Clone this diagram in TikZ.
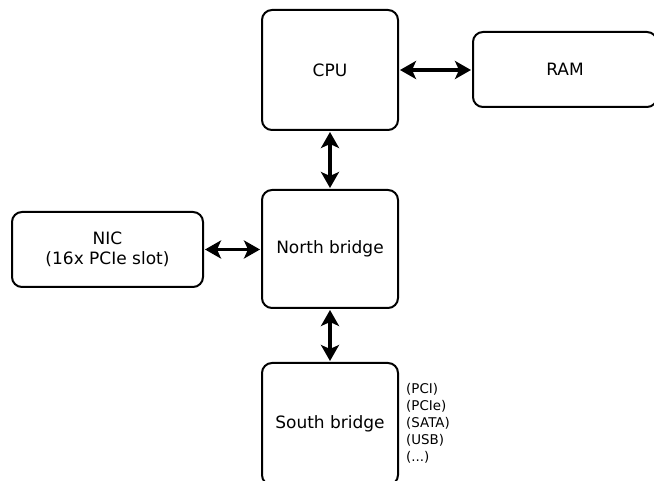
\documentclass[tikz,border=0pt]{standalone}
\usepackage{fontspec}
\setmainfont{DejaVu Sans}
\usetikzlibrary{arrows.meta}
\begin{document}
\begin{tikzpicture}[x=1pt,y=-1pt,
  box/.style={draw,line width=2pt,rounded corners=10pt,inner sep=0pt,align=center,font=\fontsize{17}{20}\selectfont},
  link/.style={line width=3.5pt,{Stealth[length=16pt,width=18pt,inset=4pt]}-{Stealth[length=16pt,width=18pt,inset=4pt]},shorten <=1pt,shorten >=1pt}]
\useasboundingbox (0,0) rectangle (654,481);
\clip (0,0) rectangle (654,481);
\node[box,minimum width=136pt,minimum height=120pt] (cpu) at (330,70) {CPU};
\node[box,minimum width=184pt,minimum height=75pt] (ram) at (565,69.5) {RAM};
\node[box,minimum width=136pt,minimum height=118pt] (nb) at (330,249) {North bridge};
\node[box,minimum width=191pt,minimum height=75pt] (nic) at (107.5,249.5) {NIC\\(16x PCIe slot)};
\node[box,minimum width=136pt,minimum height=122pt] (sb) at (330,424) {South bridge};
\node[anchor=north west,align=left,inner sep=0pt,font=\fontsize{13.4}{17}\selectfont] (ifaces) at (406,383) {(PCI)\\(PCIe)\\(SATA)\\(USB)\\(...)};
\draw[link] (cpu.east |- 0,70) -- (ram.west |- 0,70);
\draw[link] (cpu.south) -- (nb.north);
\draw[link] (nic.east) -- (nb.west |- nic.east);
\draw[link] (nb.south) -- (sb.north);
\end{tikzpicture}
\end{document}
